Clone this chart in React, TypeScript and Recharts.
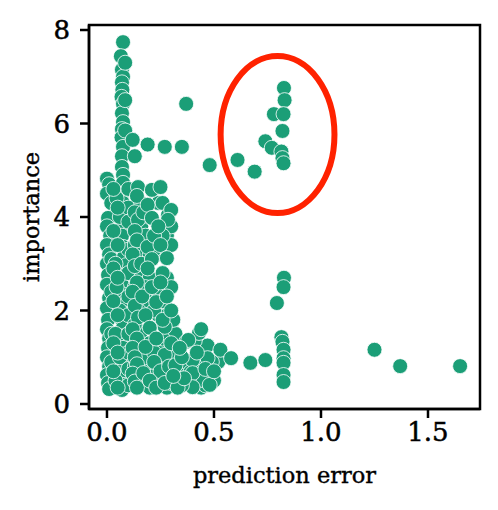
import { ScatterChart, Scatter, XAxis, YAxis, ReferenceArea } from 'recharts';

type Pt = [number, number];

// points near zero error
const columnZero: Pt[] = [
  [0.0, 4.82], [0.01, 4.7], [0.0, 4.5], [0.02, 4.3], [0.005, 3.98], [0.0, 3.8], [0.015, 3.6],
  [0.0, 3.4], [0.01, 3.2], [0.0, 3.0], [0.005, 2.76], [0.0, 2.55], [0.01, 2.27], [0.0, 2.05],
  [0.005, 1.8], [0.0, 1.6], [0.01, 1.4], [0.005, 1.2], [0.0, 1.0], [0.01, 0.8], [0.0, 0.62],
  [0.005, 0.45], [0.01, 0.32], [0.02, 0.9], [0.02, 1.5], [0.02, 2.4], [0.02, 3.1],
];

const columnMain: Pt[] = [
  [0.075, 7.74], [0.065, 7.44], [0.07, 7.15], [0.075, 7.0], [0.07, 6.88], [0.072, 6.72],
  [0.068, 6.57], [0.075, 6.42], [0.07, 6.22], [0.075, 6.03], [0.07, 5.88], [0.068, 5.7],
  [0.075, 5.5], [0.07, 5.3], [0.07, 5.07], [0.075, 4.9], [0.075, 4.73], [0.07, 4.5],
  [0.075, 4.3], [0.07, 4.1], [0.075, 3.83], [0.07, 3.6], [0.075, 3.36], [0.08, 3.15],
  [0.09, 2.97], [0.075, 2.75], [0.07, 2.55], [0.07, 2.35], [0.075, 2.16], [0.075, 1.95],
  [0.07, 1.8], [0.075, 1.63], [0.075, 1.45], [0.075, 1.2], [0.07, 1.05], [0.075, 0.88],
  [0.07, 0.72], [0.075, 0.55], [0.075, 0.41], [0.07, 0.3], [0.085, 5.85], [0.085, 6.5],
  [0.085, 7.3], [0.06, 4.0], [0.06, 2.0], [0.06, 1.0], [0.04, 3.0], [0.04, 1.5], [0.04, 0.5],
  [0.045, 4.4], [0.045, 2.5],
];

const columnSecond: Pt[] = [
  [0.12, 5.65], [0.13, 5.3], [0.145, 4.64], [0.14, 4.45], [0.145, 3.94], [0.13, 3.7],
  [0.14, 3.5], [0.12, 3.2], [0.13, 2.95], [0.14, 2.6], [0.12, 2.4], [0.13, 2.1], [0.145, 1.85],
  [0.12, 1.6], [0.14, 1.4], [0.12, 1.2], [0.13, 1.0], [0.14, 0.85], [0.12, 0.65], [0.13, 0.48],
  [0.14, 0.35], [0.17, 0.66], [0.18, 1.22], [0.18, 1.9], [0.16, 3.0], [0.165, 2.3], [0.17, 4.1],
];

const columnThird: Pt[] = [
  [0.21, 4.58], [0.25, 4.64], [0.19, 4.26], [0.26, 4.3], [0.21, 3.98], [0.285, 4.04],
  [0.3, 4.15], [0.285, 3.94], [0.19, 3.36], [0.22, 3.6], [0.25, 3.4], [0.28, 3.12],
  [0.26, 2.8], [0.23, 2.18], [0.21, 2.5], [0.25, 2.6], [0.2, 1.63], [0.27, 1.65], [0.26, 1.8],
  [0.23, 1.4], [0.27, 1.05], [0.22, 0.9], [0.25, 0.7], [0.2, 0.5], [0.23, 0.35], [0.27, 0.45],
  [0.29, 0.8], [0.3, 1.3], [0.3, 2.0], [0.21, 3.1], [0.24, 3.8], [0.19, 2.9], [0.28, 2.3],
];

const denseFill: Pt[] = [
  [0.03, 4.6], [0.03, 3.7], [0.03, 2.9], [0.03, 2.2], [0.03, 1.3], [0.03, 0.7],
  [0.1, 4.6], [0.1, 4.2], [0.1, 3.9], [0.1, 3.3], [0.1, 2.8], [0.1, 2.3], [0.1, 1.9],
  [0.1, 1.5], [0.1, 1.1], [0.1, 0.75], [0.1, 0.4],
  [0.16, 4.3], [0.16, 3.8], [0.16, 3.3], [0.16, 2.7], [0.16, 2.0], [0.16, 1.55], [0.16, 1.1], [0.16, 0.5],
  [0.2, 4.0], [0.2, 3.2], [0.2, 2.7], [0.2, 2.2], [0.2, 1.3], [0.2, 0.8], [0.2, 0.35],
  [0.24, 4.3], [0.24, 3.2], [0.24, 2.4], [0.24, 1.9], [0.24, 1.2], [0.24, 0.55],
  [0.28, 3.6], [0.28, 2.7], [0.28, 1.9], [0.28, 1.4], [0.28, 0.6], [0.28, 0.35],
  [0.32, 1.5], [0.33, 1.1], [0.35, 0.7], [0.38, 0.5], [0.42, 0.8], [0.44, 0.35],
  [0.47, 1.25], [0.5, 0.5], [0.52, 0.9], [0.31, 1.8], [0.3, 2.5], [0.3, 3.4], [0.3, 3.8],
  [0.05, 4.2], [0.05, 3.4], [0.05, 2.7], [0.05, 1.9], [0.05, 1.1], [0.05, 0.35],
  [0.13, 4.1], [0.13, 3.4], [0.13, 2.5], [0.13, 1.7], [0.13, 0.8], [0.18, 3.6], [0.18, 2.5],
  [0.18, 1.0], [0.22, 3.3], [0.22, 2.0], [0.22, 1.1], [0.22, 0.6], [0.26, 3.6], [0.26, 2.2],
  [0.26, 1.4], [0.26, 0.85], [0.3, 0.45], [0.3, 1.0], [0.34, 0.85], [0.37, 0.9], [0.41, 1.35],
  [0.43, 0.55], [0.46, 0.4], [0.49, 0.9],
];

const bottomBand: Pt[] = [
  [0.32, 0.83], [0.37, 1.33], [0.43, 1.52], [0.44, 1.6], [0.39, 0.68], [0.45, 0.51],
  [0.38, 1.37], [0.53, 1.16], [0.47, 0.98], [0.4, 0.94], [0.35, 1.0], [0.4, 0.66],
  [0.48, 0.41], [0.4, 0.36], [0.35, 0.4], [0.33, 0.35], [0.34, 1.2], [0.36, 0.55],
  [0.42, 1.1], [0.46, 0.75], [0.5, 0.7], [0.31, 0.6],
];

const outliers: Pt[] = [
  [0.19, 5.55], [0.27, 5.5], [0.35, 5.5], [0.37, 6.42], [0.48, 5.11], [0.61, 5.22],
  [0.69, 4.97], [0.58, 0.98], [0.67, 0.88], [0.74, 0.94], [1.25, 1.16], [1.37, 0.81], [1.65, 0.81],
];

const circled: Pt[] = [
  [0.827, 6.76], [0.83, 6.5], [0.78, 6.2], [0.825, 6.2], [0.82, 5.84], [0.74, 5.62],
  [0.77, 5.48], [0.815, 5.4], [0.82, 5.26], [0.825, 5.15],
];

const errorColumn: Pt[] = [
  [0.827, 2.7], [0.825, 2.5], [0.794, 2.16], [0.815, 1.43], [0.82, 1.33], [0.825, 1.16],
  [0.825, 0.98], [0.825, 0.88], [0.825, 0.62], [0.825, 0.47],
];

const xTicks = [0, 0.5, 1, 1.5];
const yTicks = [0, 2, 4, 6, 8];

const points = [
  ...columnZero, ...columnMain, ...denseFill, ...columnSecond, ...columnThird,
  ...bottomBand, ...outliers, ...circled, ...errorColumn,
].map(([x, y]) => ({ x, y }));

const font = 'DejaVu Serif';
const textStyle = { fill: '#000', stroke: '#000', strokeWidth: 0.5, fontFamily: font };

const Dot = (p: any) => (
  <circle cx={p.cx} cy={p.cy} r={7.5} fill="#1b9e77" stroke="#ffffff" strokeWidth={0.8} />
);

const Ellipse = (p: any) => (
  <ellipse
    cx={p.x + p.width / 2}
    cy={p.y + p.height / 2}
    rx={p.width / 2}
    ry={p.height / 2}
    fill="none"
    stroke="#ff2200"
    strokeWidth={6}
  />
);

export default function App() {
  return (
    <div style={{ position: 'absolute', left: 0, top: 0, background: '#fff', fontFamily: font }}>
      <ScatterChart width={498} height={510} margin={{ top: 25, right: 18, bottom: 21, left: 9 }}>
        <XAxis
          type="number"
          dataKey="x"
          domain={[-0.084, 1.743]}
          ticks={xTicks}
          tickFormatter={(v: number) => v.toFixed(1)}
          height={80}
          stroke="#000"
          strokeWidth={2.5}
          tickSize={9}
          tickMargin={5}
          fontSize={26}
          tick={{ ...textStyle, fontSize: 26 }}
          label={{ value: 'prediction error', position: 'insideBottom', offset: 6, ...textStyle, strokeWidth: 0.4, fontSize: 22.5 }}
        />
        <YAxis
          type="number"
          dataKey="y"
          domain={[-0.107, 8.107]}
          ticks={yTicks}
          width={80}
          stroke="#000"
          strokeWidth={2.5}
          tickSize={9}
          tickMargin={10}
          fontSize={26}
          tick={{ ...textStyle, fontSize: 26 }}
          label={{ value: 'importance', angle: -90, position: 'insideLeft', offset: 22, ...textStyle, strokeWidth: 0.4, fontSize: 22.5, style: { textAnchor: 'middle' } }}
        />
        <Scatter data={points} shape={Dot} isAnimationActive={false} />
        <ReferenceArea x1={0.531} x2={1.063} y1={4.085} y2={7.445} shape={Ellipse} />
        <ReferenceArea x1={-0.084} x2={1.743} y1={-0.107} y2={8.107} fill="none" stroke="#000" strokeWidth={2.5} fillOpacity={0} />
      </ScatterChart>
    </div>
  );
}
